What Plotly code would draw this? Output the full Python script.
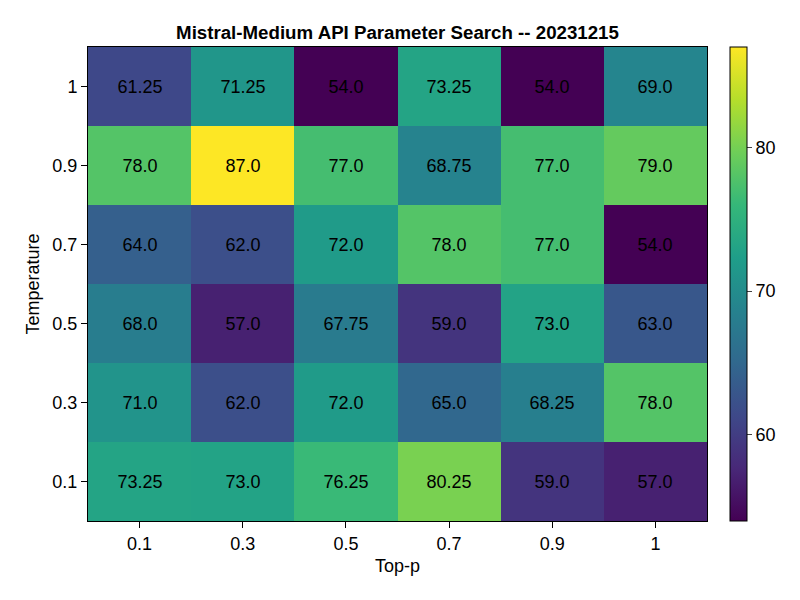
import plotly.graph_objects as go

top_p = ["0.1", "0.3", "0.5", "0.7", "0.9", "1"]
temperature = ["0.1", "0.3", "0.5", "0.7", "0.9", "1"]

# rows follow temperature, bottom (0.1) to top (1)
scores = [
    [73.25, 73.0, 76.25, 80.25, 59.0, 57.0],
    [71.0, 62.0, 72.0, 65.0, 68.25, 78.0],
    [68.0, 57.0, 67.75, 59.0, 73.0, 63.0],
    [64.0, 62.0, 72.0, 78.0, 77.0, 54.0],
    [78.0, 87.0, 77.0, 68.75, 77.0, 79.0],
    [61.25, 71.25, 54.0, 73.25, 54.0, 69.0],
]

text = [[str(v) for v in row] for row in scores]

font = "Liberation Sans, Arial, sans-serif"

fig = go.Figure(go.Heatmap(
    x=top_p, y=temperature, z=scores,
    colorscale="Viridis",
    text=text, texttemplate="%{text}",
    textfont=dict(size=18, color="black", family=font),
    colorbar=dict(
        thickness=17, len=1.0, lenmode="fraction", y=0.5, yanchor="middle",
        x=1.0, xpad=23, xanchor="left", ypad=0,
        outlinewidth=1, outlinecolor="black",
        tickvals=[60, 70, 80], ticks="outside", ticklen=5,
        tickfont=dict(size=18, family=font, color="black"),
    ),
))

# page body has an 8px margin, so plot margins are shifted by that
fig.update_layout(
    width=800, height=600,
    paper_bgcolor="white", plot_bgcolor="white",
    margin=dict(l=80, r=101, t=39, b=87, autoexpand=False),
    title=dict(text="<b>Mistral-Medium API Parameter Search -- 20231215</b>",
               x=0.5, xref="paper", xanchor="center", y=1 - 24 / 600, yanchor="middle",
               font=dict(size=18.7, family=font, color="black")),
    font=dict(family=font, size=18, color="black"),
)
fig.update_xaxes(title=dict(text="Top-p", font=dict(size=18), standoff=6),
                 automargin=False,
                 ticks="outside", ticklen=6, tickcolor="black",
                 showline=True, linecolor="black", linewidth=1, mirror=True,
                 tickfont=dict(size=18))
fig.update_yaxes(title=dict(text="Temperature", font=dict(size=18), standoff=8),
                 automargin=False,
                 ticks="outside", ticklen=6, tickcolor="black",
                 showline=True, linecolor="black", linewidth=1, mirror=True,
                 tickfont=dict(size=18))

fig.write_html("out.html")
